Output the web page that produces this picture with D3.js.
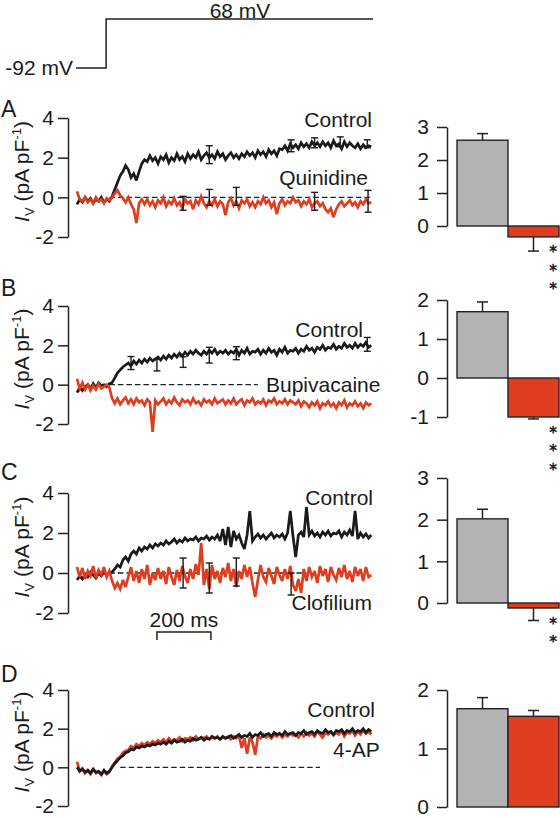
<!DOCTYPE html>
<html><head><meta charset="utf-8">
<script src="https://cdn.jsdelivr.net/npm/d3@7"></script>
<style>
body{margin:0;background:#fff}
svg{display:block}
text{font-family:"Liberation Sans",Arial,Helvetica,sans-serif;fill:#1a1a1a}
</style>
</head><body><svg id="c" width="560" height="818"></svg>
<script>
// ---------------- DATA ----------------
const sampleMs = 10; // traces sampled every 10 ms, starting at 0 ms
const protocolT = [0, 111, 111, 1095];
const protocolV = [-92, -92, 68, 68];
const protocolLabels = ["-92 mV", "68 mV"];

const panelLetters = ["A", "B", "C", "D"];
const drugNames = ["Quinidine", "Bupivacaine", "Clofilium", "4-AP"];
const controlName = "Control";
const leftTicks = [-2, 0, 2, 4];
const rightTicks = [[0, 1, 2, 3], [-1, 0, 1, 2], [0, 1, 2, 3], [0, 1, 2]];
const barCategories = ["Control", "Drug"];

const controlA = [-0.35,-0.1,-0.25,0.0,-0.2,-0.05,-0.3,-0.1,-0.2,0.0,-0.25,-0.1,-0.2,
 0.05,0.4,0.75,1.1,1.3,1.6,1.4,1.0,1.2,0.85,1.3,1.7,1.9,
 1.8,2.1,1.85,2.0,1.7,2.05,1.9,2.15,1.75,2.0,1.85,2.2,1.9,2.05,1.8,
 2.2,1.95,2.15,2.0,2.3,1.9,2.1,2.25,2.0,2.15,1.95,2.3,2.05,2.2,1.9,2.1,2.25,2.0,2.15,1.95,
 2.2,2.05,2.3,2.1,2.25,2.0,2.35,2.15,2.3,2.05,2.4,2.2,2.35,2.1,2.45,
 2.4,2.6,2.35,2.7,2.5,2.65,2.45,2.75,2.55,2.7,2.5,2.8,2.6,2.75,2.55,
 2.8,2.6,2.75,2.5,2.85,2.6,2.7,2.45,2.8,2.55,2.75,2.6,2.5,2.7,2.45,2.65,2.5,2.6,2.55];
const quinidineA = [0.3,-0.1,-0.2,0.0,-0.25,-0.1,-0.3,0.0,-0.2,-0.1,-0.3,-0.05,-0.15,
 0.0,0.2,0.35,0.1,-0.05,-0.25,0.0,-0.35,-0.6,-1.3,-0.3,-0.1,-0.35,
 -0.1,-0.4,-0.2,-0.5,-0.15,-0.3,0.0,-0.45,-0.2,-0.35,-0.05,-0.4,-0.25,-0.55,-0.1,-0.3,-0.2,-0.6,-0.15,-0.35,0.05,-0.3,-0.5,-0.2,-0.4,
 -0.1,-0.45,-0.2,-0.35,-0.9,-0.25,-0.05,-0.4,-0.2,-0.55,-0.15,-0.3,-0.1,-0.45,-0.25,-0.5,-0.2,-0.35,0.0,-0.3,-0.15,-0.5,-0.25,-0.85,-0.3,
 -0.1,-0.4,-0.2,-0.3,0.0,-0.25,-0.15,-0.45,-0.2,-0.35,-0.1,-0.5,-0.3,-0.2,-0.45,-0.3,-0.6,-0.75,-0.55,-1.0,-0.6,-0.35,-0.2,-0.45,-0.3,
 -0.15,-0.4,-0.25,-0.5,-0.2,-0.35,-0.1,-0.3,-0.25];
const controlB = [-0.4,-0.15,-0.3,-0.1,0.0,-0.2,0.05,-0.15,0.1,-0.05,0.0,-0.1,0.05,
 0.1,0.35,0.6,0.75,0.9,1.0,1.1,0.95,1.2,1.05,1.25,1.1,1.3,1.15,1.35,1.2,1.3,1.4,
 1.25,1.45,1.3,1.5,1.35,1.55,1.4,1.6,1.45,1.65,1.5,1.7,1.55,1.75,1.6,1.5,1.7,1.55,1.75,1.6,1.8,1.55,1.7,1.6,1.75,
 1.55,1.7,1.6,1.8,1.5,1.75,1.6,1.85,1.55,1.7,1.65,1.8,1.55,1.75,1.6,1.85,1.65,1.75,1.5,1.8,1.65,1.9,1.6,1.75,1.7,
 1.85,1.6,1.8,1.7,1.95,1.75,1.85,1.65,1.9,1.8,2.0,1.75,1.9,1.85,2.05,1.8,1.95,1.85,2.1,1.9,2.0,1.85,2.1,1.9,2.05,1.95,2.15,1.9,2.0];
const bupivacaineB = [0.3,-0.2,0.1,-0.25,0.0,-0.3,-0.05,-0.25,0.05,-0.2,-0.1,0.0,-0.15,
 -0.7,-0.95,-0.7,-1.0,-0.8,-0.65,-0.95,-0.75,-1.0,-0.7,-0.9,-0.8,-1.05,-0.75,-0.9,-2.4,-0.8,-1.0,
 -0.85,-0.7,-1.0,-0.8,-0.95,-0.65,-0.9,-1.05,-0.75,-0.9,-0.8,-1.0,-0.7,-0.95,-0.85,-1.05,-0.75,-0.9,-0.8,-1.0,-0.7,-0.95,-0.85,-0.75,-1.0,
 -0.8,-0.95,-0.7,-1.0,-0.85,-0.75,-1.05,-0.8,-0.9,-0.7,-1.0,-0.85,-0.95,-0.75,-1.05,-0.8,-0.9,-0.7,-1.0,-0.85,-0.95,-0.75,-1.0,-0.8,-0.9,
 -1.0,-0.8,-1.1,-0.85,-0.95,-1.15,-0.9,-1.05,-0.85,-1.2,-0.95,-1.05,-0.85,-1.1,-0.95,-1.2,-0.9,-1.05,-0.8,-1.15,-0.95,-1.05,-0.85,-1.1,-0.95,-1.2,-0.9,-1.05,-0.95];
const controlC = [-0.35,-0.15,-0.3,-0.05,-0.2,0.05,-0.1,-0.25,0.0,-0.15,0.05,-0.1,0.0,
 0.05,0.2,0.4,0.3,0.65,0.8,0.6,0.95,1.1,0.95,1.25,1.1,1.3,1.2,1.4,1.25,1.45,1.35,
 1.5,1.4,1.6,1.45,1.55,1.7,1.5,1.65,1.55,1.75,1.6,1.7,1.65,1.8,1.6,1.75,1.7,1.85,1.65,1.8,1.7,1.9,1.6,2.2,1.4,
 2.3,1.3,2.1,1.7,1.9,1.5,1.2,1.9,3.1,1.6,1.8,1.95,1.75,1.9,1.7,1.85,2.0,1.75,1.9,1.8,1.95,1.7,2.0,3.1,1.85,
 0.8,1.9,2.05,1.8,3.3,1.9,2.1,1.85,2.0,1.8,2.05,1.9,2.1,1.85,2.0,1.95,2.1,1.8,2.05,1.9,2.15,1.85,3.1,1.7,2.0,1.8,1.95,1.75,1.9];
const clofiliumC = [0.3,-0.2,0.25,-0.3,0.1,-0.15,0.35,-0.25,0.15,-0.1,0.3,-0.2,0.1,
 -0.4,-0.75,-0.5,-0.8,-0.35,-0.7,-0.2,0.3,-0.4,0.1,-0.5,0.2,-0.3,0.4,-0.6,0.0,-0.35,0.25,
 -0.3,0.1,-0.55,0.3,-0.2,-0.6,0.15,-0.4,0.35,-0.15,-0.5,0.2,-0.3,0.45,-0.1,1.5,-0.6,0.2,-0.8,0.4,-0.3,0.1,-0.5,0.25,-0.2,
 0.5,-0.4,0.2,-0.7,0.1,-0.3,0.4,-0.2,0.3,-0.5,-1.2,-0.35,0.4,-0.2,-0.45,0.25,-0.15,-0.55,0.3,-0.1,-0.4,0.2,-0.3,0.35,-0.6,
 -0.9,-0.3,-1.0,0.2,-0.4,0.3,-0.2,0.1,-0.5,0.35,-0.15,0.2,-0.45,0.3,-0.1,-0.35,0.25,-0.2,0.4,-0.3,0.1,-0.45,0.3,-0.15,0.2,-0.4,0.3,-0.2,-0.1];
const controlD = [0.0,-0.2,-0.1,-0.25,-0.15,-0.3,-0.1,-0.25,-0.2,-0.35,-0.15,-0.3,-0.2,
 0.0,0.2,0.35,0.5,0.6,0.75,0.8,0.95,0.9,1.05,1.0,1.1,1.05,1.15,1.1,1.2,1.15,1.25,
 1.2,1.3,1.2,1.35,1.25,1.4,1.3,1.35,1.45,1.3,1.4,1.35,1.5,1.4,1.45,1.55,1.4,1.5,1.45,1.6,1.5,1.55,1.45,1.6,1.5,
 1.55,1.65,1.5,1.6,1.7,1.55,1.65,1.6,1.75,1.55,1.7,1.65,1.8,1.6,1.7,1.75,1.6,1.8,1.7,1.75,1.65,1.85,1.7,1.75,1.8,
 1.65,1.8,1.75,1.9,1.7,1.8,1.85,1.7,1.9,1.8,1.75,1.95,1.8,1.85,1.7,1.9,1.85,1.95,1.75,1.9,1.85,2.0,1.8,1.9,1.85,2.0,1.8,1.95,1.85];
const fourApD = [0.3,-0.2,-0.05,-0.3,-0.15,-0.35,-0.1,-0.3,-0.25,-0.4,-0.2,-0.35,-0.25,
 0.05,0.25,0.45,0.55,0.75,0.85,0.9,1.1,1.0,1.2,1.1,1.25,1.15,1.3,1.2,1.35,1.25,1.4,
 1.3,1.45,1.3,1.5,1.35,1.45,1.4,1.55,1.35,1.5,1.45,1.55,1.4,1.6,1.45,1.55,1.5,1.6,1.45,1.55,1.5,1.6,1.45,1.55,1.5,
 1.6,1.45,1.6,1.5,1.65,1.0,1.5,0.7,1.55,1.3,0.65,1.6,1.5,1.7,1.55,1.65,1.5,1.7,1.6,1.75,1.55,1.7,1.6,1.75,1.65,
 1.7,1.55,1.75,1.6,1.8,1.65,1.75,1.6,1.85,1.7,1.55,1.8,1.7,1.85,1.65,1.8,1.7,1.9,1.6,1.8,1.75,1.9,1.65,1.85,1.7,1.9,1.75,1.85,1.7];

// trace error bars: [time ms, mean, sem]
const ctrlErrA = [[490,2.15,0.45],[793,2.6,0.3],[880,2.75,0.25],[975,2.8,0.25],[1075,2.7,0.2]];
const drugErrA = [[393,-0.3,0.35],[490,0.0,0.4],[590,0.05,0.45],[880,-0.2,0.45],[1078,-0.2,0.55]];
const ctrlErrB = [[200,1.1,0.33],[296,1.0,0.3],[393,1.15,0.27],[490,1.5,0.4],[590,1.6,0.33],[1075,2.05,0.35]];
const drugErrB = [];
const ctrlErrC = [];
const drugErrC = [[393,0.0,0.75],[490,-0.25,0.75],[590,0.05,0.7],[793,-0.55,0.55]];
const ctrlErrD = [];
const drugErrD = [];

// summary bars
const barControl = [2.6, 1.7, 2.02, 1.68];
const barControlErr = [0.2, 0.25, 0.23, 0.19];
const barDrug = [-0.33, -1.0, -0.12, 1.55];
const barDrugErr = [0.43, 0.05, 0.3, 0.1];
const significance = ["***", "***", "**", ""];
const scaleBarMs = 200;
const scaleBarLabel = "200 ms";

// ---------------- DRAWING ----------------
const RED = "#e03c1f", BLACK = "#1a1a1a", GRAY = "#b3b3b3";
const svg = d3.select("#c");

// protocol
const px = d3.scaleLinear().domain([0, 1095]).range([76, 373]);
const pv = d3.scaleLinear().domain([-92, 68]).range([68, 19]);
svg.append("path")
  .datum(protocolT.map((t, i) => [t, protocolV[i]]))
  .attr("d", d3.line().x(d => px(d[0])).y(d => pv(d[1])))
  .attr("fill", "none").attr("stroke", "#222").attr("stroke-width", 1.5);
svg.append("text").attr("x", 73).attr("y", 75).attr("text-anchor", "end")
  .style("font-size", "21px").text(protocolLabels[0]);
svg.append("text").attr("x", 240).attr("y", 18).attr("text-anchor", "middle")
  .style("font-size", "21px").text(protocolLabels[1]);

const x = d3.scaleLinear().domain([0, 1090]).range([77, 371.3]);

const panels = [
  {ctrl: controlA, drug: quinidineA, ce: ctrlErrA, de: drugErrA},
  {ctrl: controlB, drug: bupivacaineB, ce: ctrlErrB, de: drugErrB},
  {ctrl: controlC, drug: clofiliumC, ce: ctrlErrC, de: drugErrC},
  {ctrl: controlD, drug: fourApD, ce: ctrlErrD, de: drugErrD}
];
// layout (pixels)
const layout = [
  {letterY: 117, left: [118, 237], right: [226, 127], ctrlLab: [372, 127, "end"], drugLab: [368, 185, "end"], dash: [120, 1090], drugOnTop: true},
  {letterY: 296, left: [306, 424], right: [417, 300], ctrlLab: [363, 337, "end"], drugLab: [266, 392, "start"], dash: [120, 670], drugOnTop: true},
  {letterY: 480, left: [493, 613], right: [603, 478], ctrlLab: [373, 505, "end"], drugLab: [372, 610, "end"], dash: [120, 850], drugOnTop: true},
  {letterY: 682, left: [690, 806], right: [807, 690], ctrlLab: [375, 717, "end"], drugLab: [333, 757, "start"], dash: [160, 900], drugOnTop: false}
];

panels.forEach((p, k) => {
  const L = layout[k];
  const g = svg.append("g");
  g.append("text").attr("x", 1).attr("y", L.letterY).style("font-size", "23px").text(panelLetters[k]);

  const y = d3.scaleLinear().domain([-2, 4]).range([L.left[1], L.left[0]]);
  const ax = g.append("g").attr("transform", "translate(68,0)")
    .call(d3.axisLeft(y).tickValues(leftTicks).tickSize(10).tickSizeOuter(0).tickPadding(4).tickFormat(d => String(d)));
  ax.select(".domain").attr("stroke", "#222").attr("stroke-width", 1.5);
  ax.selectAll(".tick line").attr("stroke", "#222").attr("stroke-width", 1.5);
  ax.selectAll(".tick text").style("font-size", "21px").attr("fill", BLACK)
    .style("font-family", '"Liberation Sans",Arial,sans-serif');

  // y label
  const cy = (L.left[0] + L.left[1]) / 2 - 6;
  const lab = g.append("text").attr("transform", `translate(29,${cy}) rotate(-90)`)
    .attr("text-anchor", "middle").style("font-size", "21px");
  lab.append("tspan").style("font-style", "italic").text("I");
  lab.append("tspan").attr("dy", 5).style("font-size", "13px").text("V");
  lab.append("tspan").attr("dy", -5).text(" (pA pF");
  lab.append("tspan").attr("dy", -8).style("font-size", "13px").text("-1");
  lab.append("tspan").attr("dy", 8).text(")");

  // dashed zero line
  g.append("line").attr("x1", x(L.dash[0])).attr("x2", x(L.dash[1]))
    .attr("y1", y(0)).attr("y2", y(0))
    .attr("stroke", "#222").attr("stroke-width", 1.3).attr("stroke-dasharray", "5.5,3");

  const line = d3.line().x((d, i) => x(i * sampleMs)).y(d => y(d));
  const drawTrace = (data, col) => g.append("path").datum(data).attr("d", line)
    .attr("fill", "none").attr("stroke", col).attr("stroke-width", 2.7)
    .attr("stroke-linejoin", "miter").attr("stroke-miterlimit", 3);
  if (L.drugOnTop) { drawTrace(p.ctrl, BLACK); drawTrace(p.drug, RED); }
  else { drawTrace(p.drug, RED); drawTrace(p.ctrl, BLACK); }

  // error bars on traces
  const drawErr = arr => arr.forEach(([t, m, e]) => {
    const xx = x(t);
    g.append("line").attr("x1", xx).attr("x2", xx).attr("y1", y(m - e)).attr("y2", y(m + e))
      .attr("stroke", BLACK).attr("stroke-width", 1.4);
    [m - e, m + e].forEach(v => g.append("line").attr("x1", xx - 3.5).attr("x2", xx + 3.5)
      .attr("y1", y(v)).attr("y2", y(v)).attr("stroke", BLACK).attr("stroke-width", 1.4));
  });
  drawErr(p.ce); drawErr(p.de);

  // labels
  g.append("text").attr("x", L.ctrlLab[0]).attr("y", L.ctrlLab[1]).attr("text-anchor", L.ctrlLab[2])
    .style("font-size", "21px").text(controlName);
  g.append("text").attr("x", L.drugLab[0]).attr("y", L.drugLab[1]).attr("text-anchor", L.drugLab[2])
    .style("font-size", "21px").text(drugNames[k]);

  // bar chart
  const rt = rightTicks[k];
  const yr = d3.scaleLinear().domain([rt[0], rt[rt.length - 1]]).range(L.right);
  const bx = d3.scaleBand().domain(barCategories).range([457, 559]).padding(0);
  const vals = [barControl[k], barDrug[k]], errs = [barControlErr[k], barDrugErr[k]];
  const cols = [GRAY, RED];
  vals.forEach((v, j) => {
    const c = barCategories[j];
    const x0 = bx(c), w = bx.bandwidth(), cx = x0 + w / 2;
    const dir = v >= 0 ? 1 : -1;
    const ye = yr(v + dir * errs[j]);
    g.append("line").attr("x1", cx).attr("x2", cx).attr("y1", yr(v)).attr("y2", ye)
      .attr("stroke", "#222").attr("stroke-width", 1.5);
    g.append("line").attr("x1", cx - 5.5).attr("x2", cx + 5.5).attr("y1", ye).attr("y2", ye)
      .attr("stroke", "#222").attr("stroke-width", 1.5);
    g.append("rect").attr("x", x0).attr("width", w)
      .attr("y", yr(Math.max(0, v))).attr("height", Math.abs(yr(v) - yr(0)))
      .attr("fill", cols[j]).attr("stroke", "#222").attr("stroke-width", 1.4);
  });
  const axr = g.append("g").attr("transform", "translate(447,0)")
    .call(d3.axisLeft(yr).tickValues(rt).tickSize(10).tickSizeOuter(0).tickPadding(8).tickFormat(d => String(d)));
  axr.select(".domain").attr("stroke", "#222").attr("stroke-width", 1.5);
  axr.selectAll(".tick line").attr("stroke", "#222").attr("stroke-width", 1.5);
  axr.selectAll(".tick text").style("font-size", "21px").attr("fill", BLACK)
    .style("font-family", '"Liberation Sans",Arial,sans-serif');

  // significance asterisks (stacked)
  const stars = significance[k].split("");
  const c0 = yr(barDrug[k]) + 11;
  stars.forEach((s, j) => {
    g.append("text").attr("x", 553).attr("y", c0 + 9.5 + j * 18.5)
      .attr("text-anchor", "middle")
      .style("font-family", '"DejaVu Sans",sans-serif').style("font-size", "15.5px")
      .attr("stroke", "#1a1a1a").attr("stroke-width", 0.5)
      .text(s);
  });
});

// time scale bar (panel C)
const sbStart = 296;
const sbY = 632;
svg.append("path")
  .attr("d", `M${x(sbStart)},${sbY + 8}V${sbY}H${x(sbStart + scaleBarMs)}V${sbY + 8}`)
  .attr("fill", "none").attr("stroke", "#222").attr("stroke-width", 1.5);
svg.append("text").attr("x", (x(sbStart) + x(sbStart + scaleBarMs)) / 2).attr("y", 627)
  .attr("text-anchor", "middle").style("font-size", "21px").text(scaleBarLabel);
</script>
</body></html>
